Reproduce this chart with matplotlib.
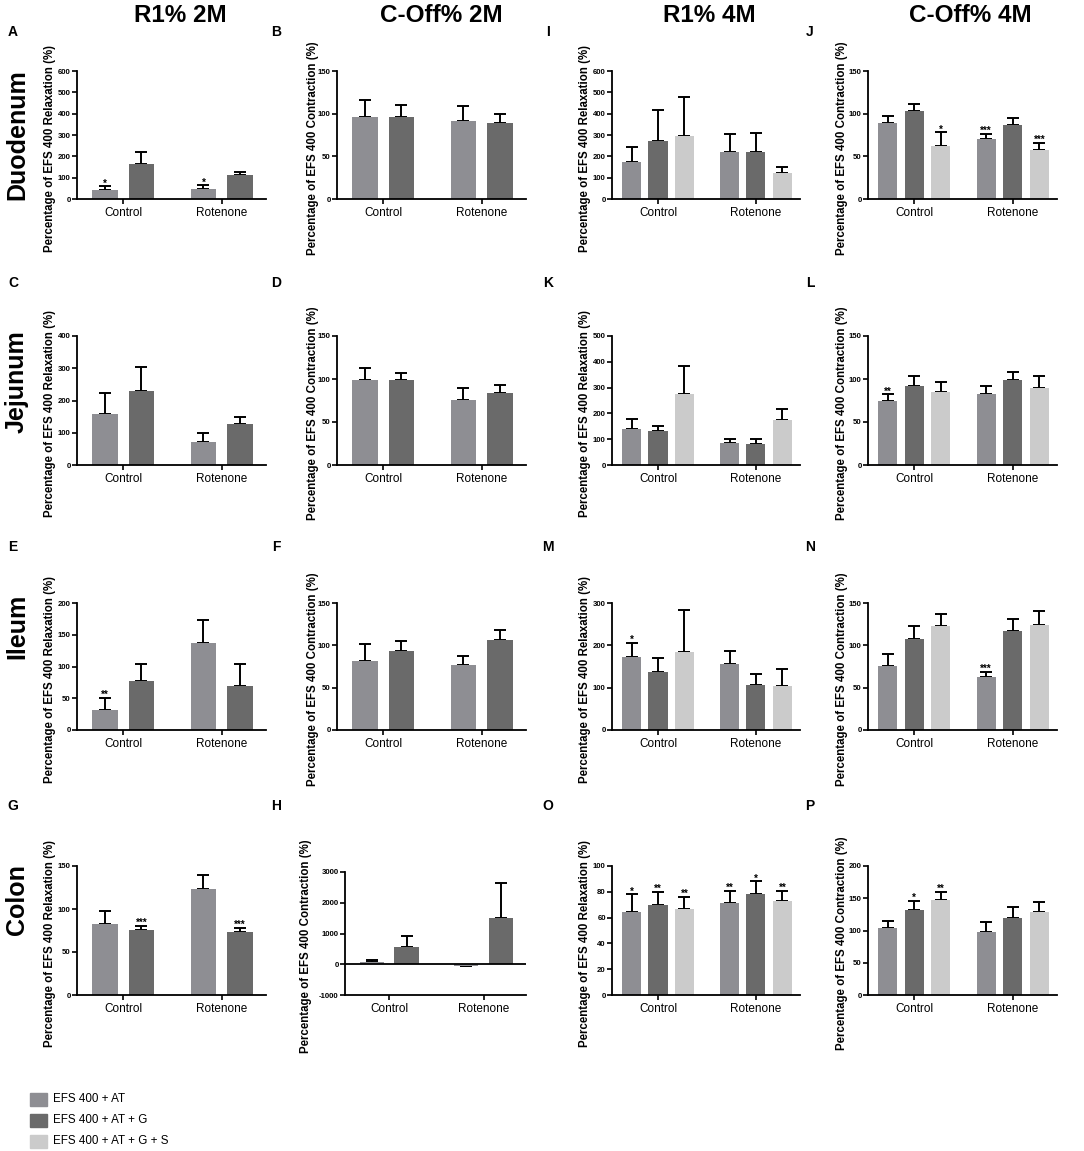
import numpy as np
import matplotlib
matplotlib.use('Agg')
import matplotlib.pyplot as plt
from matplotlib.patches import Rectangle

plt.rcParams['font.family'] = ['Liberation Sans', 'DejaVu Sans']

W, H = 1084, 1151

# categories / series
groups = ['Control', 'Rotenone']
series = ['EFS 400 + AT', 'EFS 400 + AT + G', 'EFS 400 + AT + G + S']
colors = ['#8e8e93', '#6a6a6a', '#cbcbcb']

col_titles = ['R1% 2M', 'C-Off% 2M', 'R1% 4M', 'C-Off% 4M']
row_titles = ['Duodenum', 'Jejunum', 'Ileum', 'Colon']
relax_label = 'Percentage of EFS 400 Relaxation (%)'
contr_label = 'Percentage of EFS 400 Contraction (%)'

# values: one row per series, [Control, Rotenone]
A_means = [[43, 47], [165, 111]]
A_errs = [[16, 17], [55, 17]]
A_stars = [['*', '*'], ['', '']]

B_means = [[96, 91], [96, 89]]
B_errs = [[20, 18], [14, 11]]
B_stars = [['', ''], ['', '']]

I_means = [[172, 218], [270, 221], [296, 120]]
I_errs = [[72, 88], [147, 87], [184, 30]]
I_stars = [['', ''], ['', ''], ['', '']]

J_means = [[89, 70], [103, 87], [62, 57]]
J_errs = [[8, 6], [8, 8], [16, 9]]
J_stars = [['', '***'], ['', ''], ['*', '***']]

C_means = [[157, 70], [229, 127]]
C_errs = [[65, 30], [74, 23]]
C_stars = [['', ''], ['', '']]

D_means = [[99, 76], [99, 84]]
D_errs = [[14, 13], [8, 9]]
D_stars = [['', ''], ['', '']]

K_means = [[138, 87], [131, 80], [275, 174]]
K_errs = [[41, 12], [22, 21], [109, 42]]
K_stars = [['', ''], ['', ''], ['', '']]

L_means = [[75, 83], [92, 99], [85, 90]]
L_errs = [[7, 9], [12, 9], [12, 13]]
L_stars = [['**', ''], ['', ''], ['', '']]

E_means = [[31, 137], [77, 69]]
E_errs = [[20, 36], [27, 35]]
E_stars = [['**', ''], ['', '']]

F_means = [[81, 77], [93, 106]]
F_errs = [[20, 10], [12, 12]]
F_stars = [['', ''], ['', '']]

M_means = [[173, 157], [137, 106], [185, 104]]
M_errs = [[32, 30], [32, 27], [98, 41]]
M_stars = [['*', ''], ['', ''], ['', '']]

N_means = [[76, 63], [108, 117], [123, 124]]
N_errs = [[14, 6], [15, 14], [14, 16]]
N_stars = [['', '***'], ['', ''], ['', '']]

G_means = [[83, 123], [76, 73]]
G_errs = [[15, 16], [4, 5]]
G_stars = [['', ''], ['***', '***']]

H_means = [[86, -50], [562, 1492]]
H_errs = [[54, 20], [357, 1157]]
H_stars = [['', ''], ['', '']]

O_means = [[64, 71], [70, 78], [67, 73]]
O_errs = [[14, 10], [10, 10], [9, 8]]
O_stars = [['*', '**'], ['**', '*'], ['**', '**']]

P_means = [[104, 97], [132, 120], [147, 128]]
P_errs = [[11, 16], [14, 17], [13, 16]]
P_stars = [['', ''], ['*', ''], ['**', '']]

# layout in pixels
col_left = [77, 337, 612, 868]
col_right = [266, 526, 800, 1057]
row_top = [71, 336, 603, 866]
row_bot = [199, 465, 730, 995]
label_x = [50, 313, 585, 842]
letter_x = [13, 276, 548, 810]
letter_y = [32, 283, 547, 806]

fig = plt.figure(figsize=(W / 100, H / 100), dpi=100)


def draw_panel(letter, row, col, means, errs, stars, ylo, yhi, step,
               left=None, top=None, lab_x=None):
    x0 = col_left[col] if left is None else left
    x1 = col_right[col]
    y0 = row_top[row] if top is None else top
    y1 = row_bot[row]
    ax = fig.add_axes([x0 / W, 1 - y1 / H, (x1 - x0) / W, (y1 - y0) / H])
    n = len(means)
    if n == 2:
        width, offs = 0.26, [-0.185, 0.185]
    else:
        width, offs = 0.195, [-0.27, 0.0, 0.27]
    pos = np.arange(len(groups))
    for i in range(n):
        m = np.array(means[i], dtype=float)
        e = np.array(errs[i], dtype=float)
        lower = np.where(m < 0, e, 0)
        upper = np.where(m < 0, 0, e)
        xs = pos + offs[i]
        ax.errorbar(xs, m, yerr=[lower, upper], fmt='none', ecolor='black',
                    elinewidth=1.4, capsize=4.6, capthick=1.4, zorder=1)
        ax.bar(xs, m, width, color=colors[i], zorder=2)
        for j in range(len(groups)):
            if stars[i][j]:
                ax.text(xs[j], m[j] + e[j], stars[i][j], ha='center',
                        va='baseline', fontsize=7, fontweight='bold')
    ax.set_xlim(-0.47, 1.45)
    ax.set_ylim(ylo, yhi)
    ax.spines['top'].set_visible(False)
    ax.spines['right'].set_visible(False)
    ax.spines['left'].set_linewidth(1.3)
    ax.spines['bottom'].set_linewidth(1.3)
    if ylo < 0:
        ax.axhline(0, color='black', lw=1.3, zorder=3)
    ax.set_yticks(np.arange(ylo, yhi + step / 2, step))
    ax.set_yticklabels([str(int(v)) for v in np.arange(ylo, yhi + step / 2, step)],
                       fontsize=5.6, fontweight='bold')
    ax.set_xticks(pos)
    ax.set_xticklabels(groups, fontsize=8.5)
    ax.tick_params(axis='both', length=3.5, width=1.2, direction='out')
    ax.tick_params(axis='y', pad=1)
    ax.tick_params(axis='x', pad=2)
    ax.set_ylabel(relax_label if col % 2 == 0 else contr_label,
                  fontsize=8.3, fontweight='bold')
    lx = label_x[col] if lab_x is None else lab_x
    ax.yaxis.set_label_coords((lx - x0) / (x1 - x0), 0.5 - 13 / (y1 - y0))
    ax.yaxis.label.set_verticalalignment('center')
    fig.text(letter_x[col] / W, 1 - letter_y[row] / H, letter, ha='center',
             va='center', fontsize=10, fontweight='bold')
    return ax


draw_panel('A', 0, 0, A_means, A_errs, A_stars, 0, 600, 100)
draw_panel('B', 0, 1, B_means, B_errs, B_stars, 0, 150, 50)
draw_panel('I', 0, 2, I_means, I_errs, I_stars, 0, 600, 100)
draw_panel('J', 0, 3, J_means, J_errs, J_stars, 0, 150, 50)
draw_panel('C', 1, 0, C_means, C_errs, C_stars, 0, 400, 100)
draw_panel('D', 1, 1, D_means, D_errs, D_stars, 0, 150, 50)
draw_panel('K', 1, 2, K_means, K_errs, K_stars, 0, 500, 100)
draw_panel('L', 1, 3, L_means, L_errs, L_stars, 0, 150, 50)
draw_panel('E', 2, 0, E_means, E_errs, E_stars, 0, 200, 50)
draw_panel('F', 2, 1, F_means, F_errs, F_stars, 0, 150, 50)
draw_panel('M', 2, 2, M_means, M_errs, M_stars, 0, 300, 100)
draw_panel('N', 2, 3, N_means, N_errs, N_stars, 0, 150, 50)
draw_panel('G', 3, 0, G_means, G_errs, G_stars, 0, 150, 50)
draw_panel('H', 3, 1, H_means, H_errs, H_stars, -1000, 3000, 1000,
           left=345, top=872, lab_x=306)
draw_panel('O', 3, 2, O_means, O_errs, O_stars, 0, 100, 20)
draw_panel('P', 3, 3, P_means, P_errs, P_stars, 0, 200, 50)

# column and row headings
title_x = [180, 441, 709, 970]
for t, x in zip(col_titles, title_x):
    fig.text(x / W, 1 - 16 / H, t, ha='center', va='center',
             fontsize=17.5, fontweight='bold')
row_yc = [135, 382, 626, 900]
for t, y in zip(row_titles, row_yc):
    fig.text(17 / W, 1 - y / H, t, ha='center', va='center', rotation=90,
             fontsize=18, fontweight='bold')

# legend
leg_y = [1099, 1120, 1141]
for i in range(len(series)):
    fig.patches.append(Rectangle((30 / W, 1 - (leg_y[i] + 6.5) / H), 17 / W, 13 / H,
                                 transform=fig.transFigure, color=colors[i]))
    fig.text(53 / W, 1 - leg_y[i] / H, series[i], ha='left', va='center',
             fontsize=8.4)

fig.savefig('out.png', dpi=100)
